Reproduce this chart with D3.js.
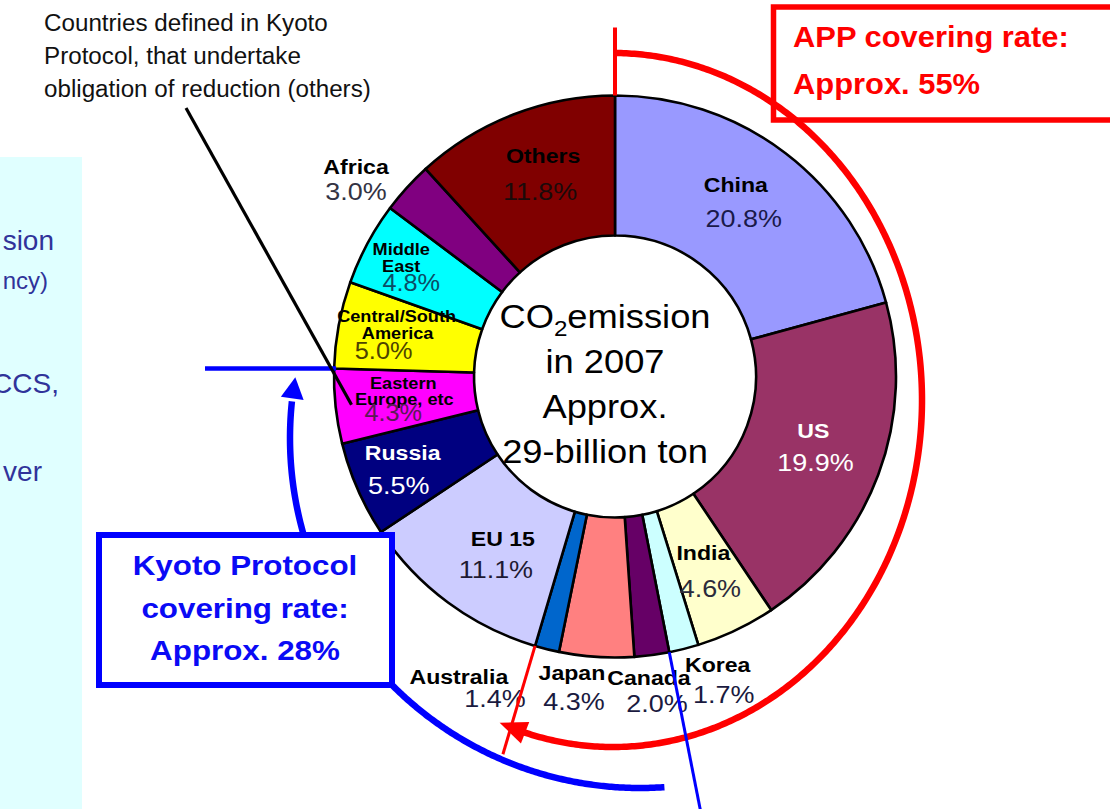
<!DOCTYPE html>
<html>
<head>
<meta charset="utf-8">
<script src="https://cdn.jsdelivr.net/npm/d3@7"></script>
<style>
  html, body { margin: 0; padding: 0; background: #ffffff; }
  svg { display: block; }
</style>
</head>
<body>
<svg id="chart" width="1110" height="809"></svg>
<script>
// ---------------- DATA ----------------
const categories = ["China", "US", "India", "Korea", "Canada", "Japan", "Australia",
  "EU 15", "Russia", "Eastern Europe, etc", "Central/South America", "Middle East", "Africa", "Others"];
const shares = [20.8, 19.9, 4.6, 1.7, 2.0, 4.3, 1.4, 11.1, 5.5, 4.3, 5.0, 4.8, 3.0, 11.8];
const nameLines = [["China"], ["US"], ["India"], ["Korea"], ["Canada"], ["Japan"], ["Australia"],
  ["EU 15"], ["Russia"], ["Eastern", "Europe, etc"], ["Central/South", "America"], ["Middle", "East"], ["Africa"], ["Others"]];
const centerLines = ["in 2007", "Approx.", "29-billion ton"];
const appTitle = ["APP covering rate:", "Approx. 55%"];
const kyotoTitle = ["Kyoto Protocol", "covering rate:", "Approx. 28%"];
const kyotoNote = ["Countries defined in Kyoto", "Protocol, that undertake", "obligation of reduction (others)"];
const panelWords = ["sion", "ncy)", "CCS,", "ver"];
// groups (names from categories)
const appMembers = ["China", "US", "India", "Korea", "Canada", "Japan", "Australia"];
const kyotoMembers = ["Canada", "Japan", "Australia", "EU 15", "Russia", "Eastern Europe, etc"];

// ---------------- STYLE ----------------
const sliceColors = ["#9999FF", "#993366", "#FFFFCC", "#CCFFFF", "#660066", "#FF8080", "#0066CC",
  "#CCCCFF", "#000080", "#FF00FF", "#FFFF00", "#00FFFF", "#800080", "#800000"];
const nameFill = ["#000", "#fff", "#000", "#000", "#000", "#000", "#000", "#000", "#fff", "#000", "#000", "#000", "#000", "#000"];
const pctFill = ["#1a1a4a", "#fff", "#2b2b3b", "#1a1a40", "#1a1a40", "#1a1a40", "#1a1a40",
  "#1e1a33", "#fff", "#5c1a55", "#4d4400", "#0b4d66", "#333344", "#1a0a0a"];
// label layout: radius, angle offset (deg), per-line dx, per-line dy
const labelLayout = [
  { r: 212, da: -1.3, dx: [-4, 4], dy: [-13, 22] },
  { r: 213, da: 0.1, dx: [-1, 1], dy: [-13, 20] },
  { r: 216.5, da: 0.4, dx: [-3.5, 3.5], dy: [-13, 24] },
  { r: 326.5, da: -4.7, dx: [-3, 3], dy: [-13, 18] },
  { r: 323.5, da: 0.8, dx: [-4, 4], dy: [-13, 14] },
  { r: 319.5, da: 3.8, dx: [-1, 1], dy: [-13, 17] },
  { r: 349, da: 9.3, dx: [-18, 18], dy: [-13, 10] },
  { r: 216, da: -4.1, dx: [3.5, -3.5], dy: [-13, 19] },
  { r: 235, da: -0.5, dx: [2, -2], dy: [-13, 21] },
  { r: 213.6, da: -1.5, dx: [0, 1, -10], dy: [-16, 0, 16] },
  { r: 222.5, da: -1, dx: [1, 2, -12], dy: [-17, 0, 20] },
  { r: 236, da: -2, dx: [-2, -2, 8], dy: [-17, 0, 19] },
  { r: 321, da: -6, dx: [0, 0], dy: [-13, 13] },
  { r: 213.6, da: 1.1, dx: [1.5, -1.5], dy: [-13, 24] }
];

const FONT = "'Liberation Sans', Arial, Helvetica, sans-serif";
const SX = 1.1;

const svg = d3.select("#chart");
const cx = 615, cy = 376.5, R = 281, R0 = 141;
const rad = d => d * Math.PI / 180;
const polar = (a, r, ox = cx, oy = cy) => [ox + r * Math.sin(a), oy - r * Math.cos(a)];

function addText(parent, x, y, str, o) {
  const g = parent.append("g").attr("transform", `translate(${x},${y}) scale(${o.sx || 1},1)`);
  const t = g.append("text")
    .attr("text-anchor", o.anchor || "middle")
    .attr("font-family", FONT)
    .attr("font-size", o.size)
    .attr("font-weight", o.bold ? "bold" : "normal")
    .attr("fill", o.fill || "#000");
  if (str !== null) t.text(str);
  return t;
}

// ---------------- LEFT PANEL ----------------
svg.append("rect").attr("x", 0).attr("y", 157).attr("width", 82).attr("height", 809 - 157).attr("fill", "#E0FFFF");
const panelPos = [[54, 250, 28], [48, 289, 24], [59, 393, 28], [42, 481, 28]];
panelWords.forEach((w, i) => addText(svg, panelPos[i][0], panelPos[i][1], w,
  { size: panelPos[i][2], anchor: "end", fill: "#30339a" }));

// ---------------- DONUT ----------------
const pie = d3.pie().sort(null).value(d => d).startAngle(0).endAngle(2 * Math.PI);
const arcs = pie(shares);
const arcGen = d3.arc().innerRadius(R0).outerRadius(R);
const gDonut = svg.append("g").attr("transform", `translate(${cx},${cy})`);
gDonut.selectAll("path").data(arcs).join("path")
  .attr("d", arcGen)
  .attr("fill", (d, i) => sliceColors[i])
  .attr("stroke", "#000")
  .attr("stroke-width", 2.6)
  .attr("stroke-linejoin", "round");

// centre text
const ct = addText(svg, 605, 328, null, { size: 33, sx: SX });
ct.append("tspan").text("CO");
ct.append("tspan").attr("font-size", 22).attr("dy", 8).text("2");
ct.append("tspan").attr("dy", -8).text("emission");
centerLines.forEach((s, i) => addText(svg, 605, 373 + i * 45, s, { size: 33, sx: SX }));

// slice labels
arcs.forEach((a, i) => {
  const L = labelLayout[i];
  const mid = (a.startAngle + a.endAngle) / 2 + rad(L.da);
  const [x, y] = polar(mid, L.r);
  const lines = nameLines[i];
  const small = lines.length > 1;
  lines.forEach((s, k) => addText(svg, x + L.dx[k], y + L.dy[k], s,
    { size: small ? 16.5 : 21, bold: true, sx: SX, fill: nameFill[i] }));
  const k = lines.length;
  addText(svg, x + L.dx[k], y + L.dy[k], shares[i].toFixed(1) + "%",
    { size: small ? 23 : 24.5, sx: SX, fill: pctFill[i] });
});

// ---------------- ANNOTATIONS ----------------
const byName = n => arcs[categories.indexOf(n)];
const appStart = byName(appMembers[0]).startAngle;
const appEnd = byName(appMembers[appMembers.length - 1]).endAngle;
const kyotoStart = byName(kyotoMembers[0]).startAngle;
const kyotoEnd = byName(kyotoMembers[kyotoMembers.length - 1]).endAngle;

function arrowHead(tip, base, halfW) {
  const dx = tip[0] - base[0], dy = tip[1] - base[1];
  const len = Math.hypot(dx, dy);
  const nx = -dy / len, ny = dx / len;
  return [tip, [base[0] + nx * halfW, base[1] + ny * halfW], [base[0] - nx * halfW, base[1] - ny * halfW]];
}
const line = d3.line();

// red: APP
const RED = "#FF0000";
const ecx = 613, ecy = 400, erx = 309, ery = 347;
const ell = t => [ecx + erx * Math.sin(t), ecy - ery * Math.cos(t)];
svg.append("line")
  .attr("x1", polar(appStart, R)[0]).attr("y1", polar(appStart, R)[1])
  .attr("x2", polar(appStart, R + 68)[0]).attr("y2", polar(appStart, R + 68)[1])
  .attr("stroke", RED).attr("stroke-width", 4);
const redEnd = appEnd + rad(1.2), redTip = appEnd + rad(5);
svg.append("path")
  .attr("d", line(d3.range(0, 401).map(k => ell(appStart + (redEnd - appStart) * k / 400))))
  .attr("fill", "none").attr("stroke", RED).attr("stroke-width", 6.5);
svg.append("polygon").attr("points", arrowHead(ell(redTip), ell(appEnd), 11.5).join(" ")).attr("fill", RED);
svg.append("line")
  .attr("x1", polar(appEnd, R)[0]).attr("y1", polar(appEnd, R)[1])
  .attr("x2", polar(appEnd, 394)[0]).attr("y2", polar(appEnd, 394)[1])
  .attr("stroke", RED).attr("stroke-width", 3);
svg.append("rect").attr("x", 773.5).attr("y", 7).attr("width", 400).attr("height", 113)
  .attr("fill", "none").attr("stroke", RED).attr("stroke-width", 5.5);
appTitle.forEach((s, i) => addText(svg, 793, 47 + i * 47, s, { size: 30, bold: true, sx: 1.03, anchor: "start", fill: RED }));

// blue: Kyoto
const BLUE = "#0000FF";
const bcx = 640, bcy = 438, br = 350;
const circ = t => polar(t, br, bcx, bcy);
const lp = polar(kyotoEnd, R);
svg.append("line").attr("x1", 205).attr("y1", lp[1]).attr("x2", lp[0] + 2).attr("y2", lp[1])
  .attr("stroke", BLUE).attr("stroke-width", 4.5);
const bStart = rad(176), bEnd = rad(276), bTip = rad(280);
svg.append("path")
  .attr("d", line(d3.range(0, 301).map(k => circ(bStart + (bEnd - bStart) * k / 300))))
  .attr("fill", "none").attr("stroke", BLUE).attr("stroke-width", 6.5);
svg.append("polygon").attr("points", arrowHead(circ(bTip), circ(rad(276.5)), 11.5).join(" ")).attr("fill", BLUE);
svg.append("line")
  .attr("x1", polar(kyotoStart, R)[0]).attr("y1", polar(kyotoStart, R)[1])
  .attr("x2", polar(kyotoStart, 450)[0]).attr("y2", polar(kyotoStart, 450)[1])
  .attr("stroke", BLUE).attr("stroke-width", 3);
svg.append("rect").attr("x", 99).attr("y", 535).attr("width", 293).attr("height", 150)
  .attr("fill", "#fff").attr("stroke", BLUE).attr("stroke-width", 6);
kyotoTitle.forEach((s, i) => addText(svg, 245, 575 + i * 42.5, s, { size: 28.5, bold: true, sx: SX, fill: "#0a0af5" }));

// black pointer + note
const eeIdx = categories.indexOf("Eastern Europe, etc");
const eeMid = (arcs[eeIdx].startAngle + arcs[eeIdx].endAngle) / 2;
const pt = polar(eeMid, 265);
svg.append("line").attr("x1", 186).attr("y1", 108).attr("x2", pt[0]).attr("y2", pt[1])
  .attr("stroke", "#000").attr("stroke-width", 3.2);
kyotoNote.forEach((s, i) => addText(svg, 44, 31 + i * 33, s, { size: 23.5, sx: 1.03, anchor: "start", fill: "#111" }));
</script>
</body>
</html>
